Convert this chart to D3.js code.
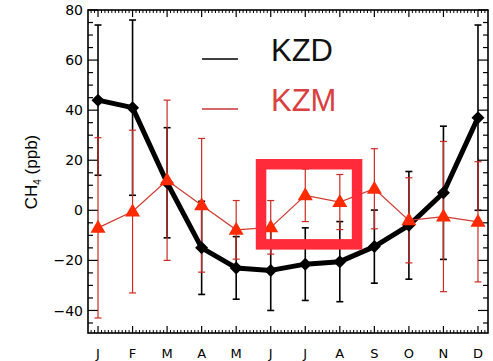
<!DOCTYPE html>
<html><head><meta charset="utf-8">
<script src="https://cdn.jsdelivr.net/npm/d3@7"></script>
<style>body{margin:0;background:#fff}svg{display:block}text{font-family:"Liberation Sans",Arial,sans-serif}.tk{font-family:"DejaVu Sans",sans-serif}</style>
</head><body>
<svg id="c" width="493" height="361"></svg>
<script>
const months = ["J","F","M","A","M","J","J","A","S","O","N","D"];
const kzd    = [44, 41, 11, -15, -23, -24, -21.5, -20.5, -14.5, -6, 7, 37];
const kzdErr = [30, 35, 22, 18.6, 12.5, 16, 14.5, 16, 14.6, 21.5, 26.6, 37];
const kzm    = [-7, -0.5, 12, 2, -7.8, -6.8, 6, 3.3, 8.6, -4, -2.5, -4.6];
const kzmErr = [36, 32.5, 32, 26.7, 11.7, 10.7, 10.5, 11, 16, 17, 30, 24];
const yTicks = [-40, -20, 0, 20, 40, 60, 80];
const seriesNames = ["KZD", "KZM"];
const highlight = {x0: 4.72, x1: 7.5, y0: -13.6, y1: 18.4};

const svg = d3.select("#c");
const L = 88, R = 488, T = 10, B = 333;
const x = d3.scaleLinear().domain([-0.29, 11.29]).range([L, R]);
const y = d3.scaleLinear().domain([-49, 80]).range([B, T]);
const idx = d3.range(months.length);

const g = svg.append("g");
const xMinor = d3.range(-2, 115).map(k => k / 10).filter(v => v >= -0.29 && v <= 11.29 && Math.abs(v - Math.round(v)) > 1e-6);
[[B, -1], [T, 1]].forEach(([yy, dir]) => {
  g.selectAll(null).data(xMinor).enter().append("line")
    .attr("x1", d => x(d)).attr("x2", d => x(d))
    .attr("y1", yy).attr("y2", yy + dir * 3)
    .attr("stroke", "#000").attr("stroke-width", 1);
  g.selectAll(null).data(idx).enter().append("line")
    .attr("x1", d => x(d)).attr("x2", d => x(d))
    .attr("y1", yy).attr("y2", yy + dir * 7)
    .attr("stroke", "#000").attr("stroke-width", 1.2);
});
const yMinor = d3.range(-45, 80, 5).filter(v => v % 20 !== 0);
[[L, 1], [R, -1]].forEach(([xx, dir]) => {
  g.selectAll(null).data(yMinor).enter().append("line")
    .attr("x1", xx).attr("x2", xx + dir * 5)
    .attr("y1", d => y(d)).attr("y2", d => y(d))
    .attr("stroke", "#000").attr("stroke-width", 1.2);
  g.selectAll(null).data(yTicks).enter().append("line")
    .attr("x1", xx).attr("x2", xx + dir * 10)
    .attr("y1", d => y(d)).attr("y2", d => y(d))
    .attr("stroke", "#000").attr("stroke-width", 1.2);
});
g.append("rect").attr("x", L).attr("y", T).attr("width", R - L).attr("height", B - T)
  .attr("fill", "none").attr("stroke", "#000").attr("stroke-width", 1.6);

g.selectAll(null).data(yTicks).enter().append("text").attr("class", "tk")
  .attr("x", 83).attr("y", d => y(d)).attr("dy", "0.36em")
  .attr("text-anchor", "end").attr("font-size", 14)
  .text(d => d < 0 ? "\u2212" + Math.abs(d) : d);
g.selectAll(null).data(idx).enter().append("text").attr("class", "tk")
  .attr("x", d => x(d)).attr("y", 358)
  .attr("text-anchor", "middle").attr("font-size", 13)
  .text(d => months[d]);
const yt = g.append("text").attr("transform", "translate(37,172) rotate(-90)")
  .attr("text-anchor", "middle").attr("font-size", 17);
yt.append("tspan").text("CH");
yt.append("tspan").attr("font-size", 10).attr("dy", 4).text("4");
yt.append("tspan").attr("dy", -4).text(" (ppb)");

function errBars(vals, errs, color, sw, cap) {
  const eg = svg.append("g").attr("stroke", color).attr("stroke-width", sw);
  eg.selectAll(null).data(idx).enter().append("line")
    .attr("x1", d => x(d)).attr("x2", d => x(d))
    .attr("y1", d => y(vals[d] - errs[d])).attr("y2", d => y(vals[d] + errs[d]));
  [1, -1].forEach(s => {
    eg.selectAll(null).data(idx).enter().append("line")
      .attr("x1", d => x(d) - cap).attr("x2", d => x(d) + cap)
      .attr("y1", d => y(vals[d] + s * errs[d])).attr("y2", d => y(vals[d] + s * errs[d]));
  });
}
errBars(kzd, kzdErr, "#000", 1.6, 3.5);
errBars(kzm, kzmErr, "#cc2a22", 1.2, 3.5);

svg.append("path").datum(idx)
  .attr("d", d3.line().x(d => x(d)).y(d => y(kzd[d])))
  .attr("fill", "none").attr("stroke", "#000").attr("stroke-width", 5).attr("stroke-linejoin", "round");
svg.selectAll(null).data(idx).enter().append("path")
  .attr("transform", d => `translate(${x(d)},${y(kzd[d])})`)
  .attr("d", "M0,-6.5L6.5,0L0,6.5L-6.5,0Z").attr("fill", "#000");

svg.append("path").datum(idx)
  .attr("d", d3.line().x(d => x(d)).y(d => y(kzm[d])))
  .attr("fill", "none").attr("stroke", "#d03a30").attr("stroke-width", 1.2);
svg.selectAll(null).data(idx).enter().append("path")
  .attr("transform", d => `translate(${x(d)},${y(kzm[d])})`)
  .attr("d", "M0,-8L7.5,5L-7.5,5Z").attr("fill", "#ff2a00");

svg.append("rect")
  .attr("x", x(highlight.x0)).attr("y", y(highlight.y1))
  .attr("width", x(highlight.x1) - x(highlight.x0))
  .attr("height", y(highlight.y0) - y(highlight.y1))
  .attr("fill", "none").attr("stroke", "#ff2a3a").attr("stroke-width", 10.5);

const lg = svg.append("g");
const legColors = ["#000", "#cc3333"];
const legText = ["#111", "#d94040"];
seriesNames.forEach((n, i) => {
  const yy = 59 + i * 50;
  lg.append("line").attr("x1", 202).attr("x2", 238).attr("y1", yy).attr("y2", yy)
    .attr("stroke", legColors[i]).attr("stroke-width", 1.5);
  lg.append("text").attr("x", 271).attr("y", yy + 2).attr("font-size", 31)
    .attr("fill", legText[i]).text(n);
});
</script>
</body></html>
